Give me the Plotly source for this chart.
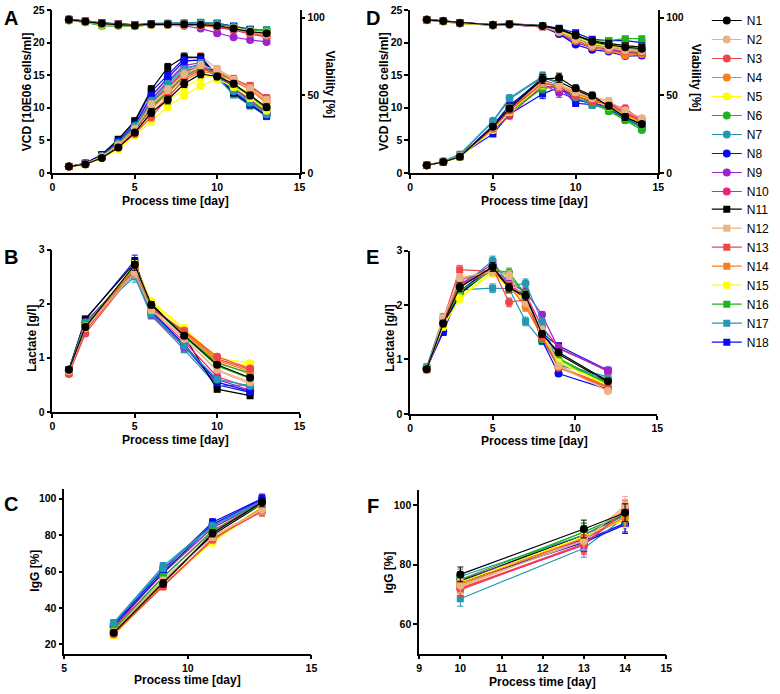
import plotly.graph_objects as go

W, H = 780, 694

names = ["N1", "N2", "N3", "N4", "N5", "N6", "N7", "N8", "N9", "N10",
         "N11", "N12", "N13", "N14", "N15", "N16", "N17", "N18"]
colors = ["#000000", "#EBB282", "#EF4747", "#FA7E1E", "#FFFF00", "#1FB51F", "#2497B3", "#0A0AF2", "#9E22CE", "#F0207A",
          "#000000", "#EBB282", "#EF4747", "#FA7E1E", "#FFFF00", "#1FB51F", "#2497B3", "#0A0AF2"]
symbols = ["circle"] * 10 + ["square"] * 8

# ---------------- Panel A ----------------
days_A = [1, 2, 3, 4, 5, 6, 7, 8, 9, 10, 11, 12, 13]
vcd_A = [
    [1.0, 1.35, 2.3, 3.9, 6.2, 9.3, 11.2, 13.7, 15.2, 14.8, 13.7, 11.9, 10.1],
    [1.0, 1.4, 2.5, 4.3, 6.8, 10.5, 12.8, 15.2, 16.5, 15.8, 14.3, 13.0, 11.2],
    [1.0, 1.35, 2.4, 4.0, 6.0, 8.6, 11.5, 14.5, 15.8, 15.5, 14.4, 13.3, 11.5],
    [1.0, 1.35, 2.4, 4.1, 6.3, 9.0, 11.8, 14.2, 15.5, 15.3, 14.0, 12.8, 10.8],
    [1.0, 1.3, 2.3, 3.6, 5.7, 8.0, 10.2, 11.9, 13.4, 14.4, 13.2, 11.5, 9.6],
    [1.0, 1.4, 2.5, 4.4, 6.8, 10.2, 12.5, 14.8, 16.2, 15.2, 13.5, 11.8, 9.8],
    [1.0, 1.4, 2.6, 4.6, 7.2, 11.0, 13.6, 15.8, 16.8, 15.0, 12.6, 10.8, 9.0],
    [1.0, 1.45, 2.7, 4.9, 7.4, 11.8, 14.6, 17.2, 17.3, 15.0, 12.5, 10.6, 8.9],
    [1.0, 1.4, 2.6, 4.7, 7.0, 11.2, 14.0, 16.5, 16.9, 15.2, 13.0, 11.0, 9.2],
    [1.0, 1.4, 2.5, 4.5, 6.7, 10.8, 13.2, 15.6, 16.4, 15.3, 13.2, 11.4, 9.5],
    [1.0, 1.5, 2.8, 5.2, 8.0, 12.8, 16.2, 17.8, 17.7, 15.0, 12.3, 10.5, 8.8],
    [1.0, 1.45, 2.6, 4.8, 7.4, 11.5, 14.2, 16.8, 17.9, 16.0, 14.5, 13.2, 11.0],
    [1.0, 1.4, 2.5, 4.4, 6.6, 10.0, 12.4, 15.0, 16.6, 15.6, 14.0, 13.4, 11.5],
    [1.0, 1.4, 2.5, 4.3, 6.5, 9.8, 12.2, 14.8, 16.0, 15.5, 14.1, 12.9, 10.6],
    [1.0, 1.35, 2.4, 4.0, 6.0, 9.2, 11.0, 13.0, 14.6, 15.0, 13.6, 12.0, 10.0],
    [1.0, 1.4, 2.6, 4.6, 7.0, 10.8, 13.0, 15.4, 16.5, 15.0, 13.0, 11.2, 9.4],
    [1.0, 1.5, 2.8, 5.0, 7.6, 11.6, 13.8, 16.2, 16.5, 14.6, 12.0, 10.3, 8.7],
    [1.0, 1.5, 2.8, 5.1, 7.8, 12.5, 15.0, 17.6, 17.8, 14.9, 12.1, 10.4, 8.7],
]
err_vcd_A = [0.15, 0.2, 0.25, 0.35, 0.4, 0.6, 0.6, 0.6, 0.6, 0.5, 0.5, 0.5, 0.5]
via_A = [
    [98.7, 97.5, 96.2, 95.5, 95.0, 95.8, 95.8, 95.8, 95.5, 94.8, 93.0, 91.0, 90.0],
    [98.5, 97.6, 96.0, 95.3, 95.0, 95.6, 95.8, 96.0, 95.8, 95.0, 93.0, 90.5, 89.0],
    [98.8, 97.9, 96.5, 95.8, 95.2, 95.8, 95.6, 95.6, 95.3, 94.5, 92.5, 90.0, 88.0],
    [98.4, 97.4, 95.8, 95.3, 94.9, 95.5, 95.6, 95.6, 95.2, 94.3, 92.8, 90.8, 89.5],
    [98.3, 97.3, 95.5, 95.0, 94.7, 95.3, 95.5, 95.5, 95.0, 94.6, 93.4, 91.5, 90.5],
    [98.2, 97.0, 94.8, 94.8, 94.5, 95.3, 95.4, 95.5, 95.2, 94.8, 93.5, 91.8, 91.5],
    [99.0, 97.8, 96.4, 95.8, 95.3, 96.0, 96.2, 96.3, 96.8, 96.2, 94.2, 92.0, 91.8],
    [98.8, 97.6, 96.2, 95.6, 95.2, 95.9, 96.0, 96.2, 96.4, 95.8, 94.0, 92.2, 91.0],
    [98.5, 97.5, 95.5, 95.0, 94.8, 95.5, 95.3, 94.8, 93.0, 90.0, 87.4, 85.7, 84.4],
    [98.6, 97.6, 96.0, 95.4, 95.0, 95.7, 95.6, 95.5, 95.0, 93.8, 92.0, 89.5, 87.5],
    [98.9, 97.7, 96.6, 96.0, 95.4, 96.0, 96.1, 96.2, 96.4, 96.0, 94.4, 92.2, 91.2],
    [98.6, 97.5, 96.2, 95.6, 95.0, 95.8, 95.9, 96.0, 96.0, 95.2, 93.3, 90.8, 89.5],
    [98.9, 98.0, 96.6, 95.9, 95.3, 95.9, 95.8, 95.8, 95.6, 94.8, 92.8, 90.3, 88.3],
    [98.5, 97.4, 96.0, 95.4, 95.0, 95.6, 95.7, 95.7, 95.4, 94.6, 93.0, 91.0, 89.8],
    [98.3, 97.3, 95.6, 95.1, 94.8, 95.4, 95.6, 95.6, 95.2, 94.8, 93.6, 91.6, 90.8],
    [98.3, 97.1, 95.0, 94.9, 94.6, 95.4, 95.5, 95.6, 95.4, 95.0, 93.8, 92.0, 91.8],
    [99.1, 97.9, 96.8, 96.1, 95.6, 96.3, 96.4, 96.5, 97.0, 96.6, 94.5, 92.4, 92.4],
    [98.9, 97.7, 96.5, 95.9, 95.4, 96.0, 96.2, 96.4, 96.8, 96.4, 94.6, 92.6, 92.0],
]
err_via_A = [1.0, 1.0, 1.0, 1.0, 1.0, 1.0, 1.0, 1.0, 1.2, 1.2, 1.2, 1.2, 1.2]

# ---------------- Panel D ----------------
days_D = [1, 2, 3, 5, 6, 8, 9, 10, 11, 12, 13, 14]
vcd_D = [
    [1.2, 1.7, 2.5, 7.1, 9.9, 14.4, 14.6, 13.0, 11.9, 10.3, 8.6, 7.5],
    [1.2, 1.7, 2.6, 7.0, 10.0, 14.0, 13.5, 12.4, 11.5, 11.0, 9.6, 8.4],
    [1.2, 1.7, 2.6, 6.8, 9.6, 13.8, 13.2, 11.8, 11.0, 10.6, 9.4, 8.0],
    [1.2, 1.7, 2.6, 6.9, 9.8, 14.0, 13.4, 12.2, 11.3, 10.5, 9.0, 7.8],
    [1.2, 1.7, 2.5, 6.6, 9.4, 13.6, 13.3, 12.0, 11.2, 10.2, 8.8, 7.6],
    [1.2, 1.7, 2.5, 6.7, 9.3, 13.0, 13.2, 12.0, 10.8, 9.5, 8.1, 6.6],
    [1.2, 1.8, 2.8, 8.0, 11.5, 14.8, 13.8, 11.6, 10.5, 10.0, 8.6, 7.2],
    [1.2, 1.7, 2.6, 7.3, 10.4, 14.2, 13.4, 11.2, 10.7, 10.0, 8.5, 7.2],
    [1.2, 1.7, 2.6, 7.0, 9.6, 13.6, 12.3, 11.4, 10.8, 10.2, 9.2, 7.8],
    [1.2, 1.7, 2.5, 6.6, 8.8, 13.4, 13.0, 11.8, 11.0, 10.6, 9.9, 8.1],
    [1.2, 1.7, 2.5, 7.2, 10.2, 14.6, 14.0, 12.8, 11.6, 10.2, 8.4, 7.4],
    [1.2, 1.7, 2.6, 7.0, 10.2, 14.2, 13.5, 12.6, 11.8, 11.0, 9.5, 8.3],
    [1.2, 1.7, 2.6, 6.9, 9.7, 13.9, 13.4, 12.0, 11.2, 10.5, 9.3, 7.9],
    [1.2, 1.7, 2.6, 7.0, 9.9, 14.1, 13.3, 12.3, 11.4, 10.4, 8.9, 7.7],
    [1.2, 1.7, 2.5, 6.7, 9.5, 13.7, 13.4, 12.1, 11.3, 10.3, 8.9, 7.7],
    [1.2, 1.7, 2.6, 6.9, 9.4, 13.2, 13.3, 12.1, 10.9, 9.6, 8.2, 6.9],
    [1.2, 1.8, 2.9, 7.9, 11.3, 14.7, 13.7, 11.5, 10.4, 9.9, 8.5, 7.1],
    [1.2, 1.7, 2.7, 6.0, 9.0, 12.1, 13.2, 10.7, 10.5, 9.8, 8.4, 7.0],
]
err_vcd_D = [0.2, 0.2, 0.25, 0.4, 0.5, 0.7, 0.7, 0.5, 0.5, 0.5, 0.5, 0.4]
via_D = [
    [98.6, 97.8, 96.6, 95.3, 95.8, 94.6, 92.5, 88.5, 84.5, 82.5, 81.0, 80.0],
    [98.6, 97.8, 96.5, 95.2, 95.7, 94.2, 91.0, 86.0, 82.0, 80.5, 79.0, 78.5],
    [98.7, 97.8, 96.6, 95.4, 95.9, 94.3, 90.8, 85.5, 81.5, 80.2, 78.5, 77.8],
    [98.5, 97.7, 96.5, 95.3, 95.8, 94.2, 90.5, 85.0, 81.0, 79.0, 75.6, 76.5],
    [98.5, 97.6, 96.4, 95.2, 95.7, 94.4, 91.5, 87.5, 83.5, 81.5, 81.0, 80.0],
    [98.4, 97.5, 96.3, 95.4, 95.9, 94.5, 91.2, 87.0, 83.0, 81.0, 78.8, 77.2],
    [98.8, 98.0, 96.7, 95.5, 96.0, 94.8, 92.0, 87.5, 83.5, 81.8, 80.5, 79.5],
    [98.7, 97.9, 96.6, 95.0, 95.6, 94.0, 89.5, 82.7, 79.4, 78.2, 75.3, 75.6],
    [98.6, 97.8, 96.5, 95.2, 95.6, 94.0, 89.6, 84.0, 80.5, 79.5, 77.5, 77.0],
    [98.6, 97.7, 96.5, 95.3, 95.7, 94.1, 90.2, 84.8, 81.0, 79.8, 77.8, 77.5],
    [98.7, 97.9, 96.7, 95.4, 95.9, 94.7, 92.8, 89.0, 85.0, 83.5, 82.0, 81.0],
    [98.6, 97.8, 96.5, 95.2, 95.7, 94.3, 91.2, 86.5, 82.5, 81.0, 79.8, 79.0],
    [98.7, 97.8, 96.6, 95.4, 95.9, 94.4, 91.0, 86.0, 82.0, 80.5, 79.2, 78.5],
    [98.5, 97.7, 96.5, 95.3, 95.8, 94.2, 90.8, 85.5, 81.5, 79.5, 76.2, 77.0],
    [98.5, 97.6, 96.4, 95.2, 95.7, 94.5, 91.8, 88.0, 84.0, 82.5, 82.0, 81.0],
    [98.5, 97.6, 96.4, 95.6, 96.2, 94.8, 92.0, 88.5, 85.0, 85.3, 86.5, 86.5],
    [98.8, 98.0, 96.7, 95.5, 96.0, 94.8, 92.3, 88.0, 84.2, 82.5, 81.5, 80.5],
    [98.9, 98.0, 96.8, 95.5, 96.0, 95.0, 93.2, 90.3, 86.1, 85.3, 85.3, 84.0],
]
err_via_D = [1.0, 1.0, 1.0, 1.0, 1.0, 1.0, 1.2, 1.2, 1.2, 1.2, 1.5, 1.5]

# ---------------- Panel B ----------------
days_B = [1, 2, 5, 6, 8, 10, 12]
lac_B = [
    [0.78, 1.57, 2.72, 1.98, 1.41, 0.87, 0.63],
    [0.75, 1.55, 2.58, 1.88, 1.35, 0.78, 0.55],
    [0.70, 1.45, 2.60, 1.90, 1.50, 1.02, 0.80],
    [0.75, 1.55, 2.65, 1.95, 1.48, 0.95, 0.75],
    [0.75, 1.58, 2.70, 2.05, 1.55, 1.00, 0.90],
    [0.76, 1.60, 2.68, 1.96, 1.42, 0.90, 0.72],
    [0.78, 1.65, 2.55, 1.82, 1.22, 0.60, 0.48],
    [0.78, 1.62, 2.65, 1.85, 1.25, 0.55, 0.38],
    [0.78, 1.66, 2.62, 1.80, 1.20, 0.60, 0.40],
    [0.77, 1.60, 2.64, 1.86, 1.30, 0.65, 0.45],
    [0.78, 1.72, 2.75, 2.00, 1.40, 0.42, 0.30],
    [0.76, 1.60, 2.60, 1.90, 1.36, 0.76, 0.52],
    [0.72, 1.50, 2.62, 1.92, 1.48, 0.98, 0.78],
    [0.75, 1.56, 2.66, 1.96, 1.46, 0.92, 0.70],
    [0.76, 1.58, 2.70, 2.02, 1.52, 0.96, 0.85],
    [0.76, 1.62, 2.68, 1.95, 1.40, 0.85, 0.62],
    [0.78, 1.68, 2.50, 1.78, 1.15, 0.48, 0.50],
    [0.78, 1.70, 2.80, 1.88, 1.22, 0.50, 0.36],
]
err_B = [0.03, 0.05, 0.1, 0.06, 0.05, 0.05, 0.05]

# ---------------- Panel E ----------------
days_E = [1, 2, 3, 5, 6, 7, 8, 9, 12]
lac_E = [
    [0.82, 1.66, 2.33, 2.70, 2.32, 2.17, 1.47, 1.13, 0.60],
    [0.80, 1.75, 2.50, 2.62, 2.55, 2.05, 1.55, 0.88, 0.42],
    [0.82, 1.70, 2.45, 2.68, 2.05, 2.10, 1.40, 0.85, 0.48],
    [0.82, 1.68, 2.35, 2.65, 2.35, 1.97, 1.42, 0.85, 0.50],
    [0.83, 1.60, 2.12, 2.60, 2.30, 2.10, 1.45, 0.95, 0.52],
    [0.84, 1.68, 2.25, 2.65, 2.60, 2.20, 1.37, 1.00, 0.55],
    [0.86, 1.72, 2.30, 2.82, 2.35, 2.40, 1.70, 0.90, 0.65],
    [0.84, 1.52, 2.22, 2.72, 2.30, 2.15, 1.35, 0.74, 0.45],
    [0.83, 1.70, 2.38, 2.75, 2.40, 2.25, 1.82, 1.20, 0.80],
    [0.82, 1.68, 2.36, 2.70, 2.35, 2.20, 1.60, 1.22, 0.78],
    [0.82, 1.65, 2.20, 2.68, 2.30, 2.15, 1.48, 1.10, 0.58],
    [0.80, 1.76, 2.48, 2.60, 2.50, 2.00, 1.55, 0.90, 0.44],
    [0.82, 1.72, 2.65, 2.62, 2.35, 2.08, 1.42, 0.88, 0.50],
    [0.82, 1.67, 2.38, 2.66, 2.38, 1.97, 1.44, 0.86, 0.52],
    [0.83, 1.60, 2.15, 2.62, 2.32, 2.10, 1.45, 0.96, 0.54],
    [0.84, 1.66, 2.22, 2.66, 2.55, 2.18, 1.36, 1.02, 0.56],
    [0.86, 1.78, 2.28, 2.31, 2.30, 1.70, 1.33, 0.92, 0.68],
    [0.84, 1.50, 2.25, 2.72, 2.30, 2.18, 1.48, 1.25, 0.80],
]
err_E = [0.04, 0.06, 0.08, 0.08, 0.08, 0.08, 0.06, 0.05, 0.04]

# ---------------- Panel C ----------------
days_C = [7, 9, 11, 13]
igg_C = [
    [26.5, 53.5, 81.0, 98.0],
    [27.0, 55.0, 79.0, 94.0],
    [26.0, 52.0, 78.0, 93.0],
    [25.5, 52.5, 77.5, 95.0],
    [25.0, 53.0, 76.0, 95.0],
    [28.0, 57.0, 82.0, 97.0],
    [31.5, 62.0, 85.0, 98.0],
    [30.5, 59.5, 86.0, 99.5],
    [30.0, 59.0, 84.0, 98.5],
    [29.0, 57.0, 82.5, 97.5],
    [27.0, 54.0, 80.0, 97.0],
    [27.5, 55.5, 79.5, 94.0],
    [26.0, 52.0, 78.0, 93.0],
    [25.5, 52.5, 77.0, 94.5],
    [25.0, 53.0, 76.5, 95.5],
    [29.0, 60.0, 84.0, 97.5],
    [32.0, 63.0, 85.5, 98.5],
    [31.0, 61.0, 87.0, 100.0],
]
err_C = [1.5, 2.0, 2.0, 2.5]

# ---------------- Panel F ----------------
days_F = [10, 13, 14]
igg_F = [
    [76.7, 92.0, 97.5],
    [73.0, 88.0, 100.0],
    [72.0, 87.0, 98.0],
    [73.5, 89.0, 96.0],
    [74.0, 89.5, 95.5],
    [75.0, 91.0, 97.0],
    [76.0, 90.0, 96.5],
    [74.0, 87.5, 93.5],
    [75.0, 88.5, 96.0],
    [72.0, 86.5, 98.5],
    [74.5, 90.0, 97.0],
    [72.5, 88.5, 99.0],
    [71.5, 87.0, 97.5],
    [73.0, 89.0, 95.5],
    [73.5, 90.0, 95.0],
    [74.0, 91.0, 97.0],
    [68.5, 85.5, 96.0],
    [73.5, 88.0, 94.0],
]
err_F = [2.5, 3.0, 3.0]

FONT = "Liberation Sans"

def dx(a, b):
    return [a / W, b / W]

def dy(top, bottom):
    return [1 - bottom / H, 1 - top / H]

fig = go.Figure()

panels = [
    ("x", "y", days_A, vcd_A, err_vcd_A, True),
    ("x", "y7", days_A, via_A, err_via_A, False),
    ("x2", "y2", days_D, vcd_D, err_vcd_D, False),
    ("x2", "y8", days_D, via_D, err_via_D, False),
    ("x3", "y3", days_B, lac_B, err_B, False),
    ("x4", "y4", days_E, lac_E, err_E, False),
    ("x5", "y5", days_C, igg_C, err_C, False),
    ("x6", "y6", days_F, igg_F, err_F, False),
]

for xa, ya, days, data, err, show in panels:
    for i in reversed(range(len(names))):
        col = colors[i]
        fig.add_trace(go.Scatter(
            x=days, y=data[i], name=names[i], mode="lines+markers",
            line=dict(color=col, width=1.2),
            marker=dict(symbol=symbols[i], size=8 if symbols[i] == "circle" else 7, color=col),
            error_y=dict(type="data", array=err, color=col, thickness=1, width=3),
            xaxis=xa, yaxis=ya, showlegend=show,
            legend="legend" if i < 10 else "legend2",
            legendrank=i + 1,
        ))

tickfont = dict(family=FONT, size=10.5, color="black", weight="bold")
ax = dict(showline=True, linecolor="black", linewidth=1.5, ticks="outside", ticklen=4,
          tickwidth=1.5, tickcolor="black", showgrid=False, zeroline=False,
          tickfont=tickfont, fixedrange=True)

fig.update_layout(
    width=W, height=H, margin=dict(l=0, r=0, t=0, b=0),
    paper_bgcolor="white", plot_bgcolor="white",
    xaxis=dict(ax, domain=dx(50, 300), anchor="y", range=[0, 15], tickvals=[0, 5, 10, 15]),
    yaxis=dict(ax, domain=dy(4, 170), anchor="x", range=[0, 25], tickvals=[0, 5, 10, 15, 20, 25]),
    yaxis7=dict(ax, overlaying="y", side="right", anchor="x", range=[0, 105], tickvals=[0, 50, 100]),
    xaxis2=dict(ax, domain=dx(412, 663), anchor="y2", range=[0, 15], tickvals=[0, 5, 10, 15]),
    yaxis2=dict(ax, domain=dy(4, 170), anchor="x2", range=[0, 25], tickvals=[0, 5, 10, 15, 20, 25]),
    yaxis8=dict(ax, overlaying="y2", side="right", anchor="x2", range=[0, 105], tickvals=[0, 50, 100]),
    xaxis3=dict(ax, domain=dx(50, 300), anchor="y3", range=[0, 15], tickvals=[0, 5, 10, 15]),
    yaxis3=dict(ax, domain=dy(248, 413), anchor="x3", range=[0, 3], tickvals=[0, 1, 2, 3]),
    xaxis4=dict(ax, domain=dx(412, 662), anchor="y4", range=[0, 15], tickvals=[0, 5, 10, 15]),
    yaxis4=dict(ax, domain=dy(249, 415), anchor="x4", range=[0, 3], tickvals=[0, 1, 2, 3]),
    xaxis5=dict(ax, domain=dx(62, 312), anchor="y5", range=[5, 15], tickvals=[5, 10, 15]),
    yaxis5=dict(ax, domain=dy(492, 659), anchor="x5", range=[15, 105], tickvals=[20, 40, 60, 80, 100]),
    xaxis6=dict(ax, domain=dx(421, 671), anchor="y6", range=[9, 15], tickvals=[9, 10, 11, 12, 13, 14, 15]),
    yaxis6=dict(ax, domain=dy(493, 659), anchor="x6", range=[50, 105], tickvals=[60, 80, 100]),
    legend=dict(x=712 / W, y=1.0, xanchor="left", yanchor="top", bgcolor="rgba(0,0,0,0)",
                font=dict(family=FONT, size=12, color="black"), traceorder="normal"),
    legend2=dict(x=712 / W, y=1 - 192 / H, xanchor="left", yanchor="top", bgcolor="rgba(0,0,0,0)",
                 font=dict(family=FONT, size=12, color="black"), traceorder="normal"),
)

ann = []
def text(x, y, s, size=12, angle=0, bold=True):
    ann.append(dict(x=x / W, y=1 - y / H, xref="paper", yref="paper", text=s, showarrow=False,
                    textangle=angle, xanchor="center", yanchor="middle",
                    font=dict(family=FONT, size=size, color="black", weight="bold" if bold else "normal")))

for cx, cy in [(175, 198), (538, 198), (175, 442), (538, 443), (187, 686), (546, 688)]:
    text(cx, cy, "Process time [day]")
text(25, 87, "VCD [10E06 cells/ml]", angle=-90)
text(386, 87, "VCD [10E06 cells/ml]", angle=-90)
text(30, 338, "Lactate [g/l]", angle=-90)
text(392, 338, "Lactate [g/l]", angle=-90)
text(32, 575, "IgG [%]", angle=-90)
text(391, 576, "IgG [%]", angle=-90)
text(331, 80, "Viability [%]", angle=90)
text(701, 73, "Viability [%]", angle=90)
for lx, ly, s in [(8, 12, "A"), (8, 255, "B"), (8, 507, "C"), (374, 12, "D"), (374, 255, "E"), (374, 509, "F")]:
    text(lx, ly, s, size=20)
fig.update_layout(annotations=ann)

fig.write_html("out.html", config={"displayModeBar": False},
               post_script="document.body.style.margin='0px';")
